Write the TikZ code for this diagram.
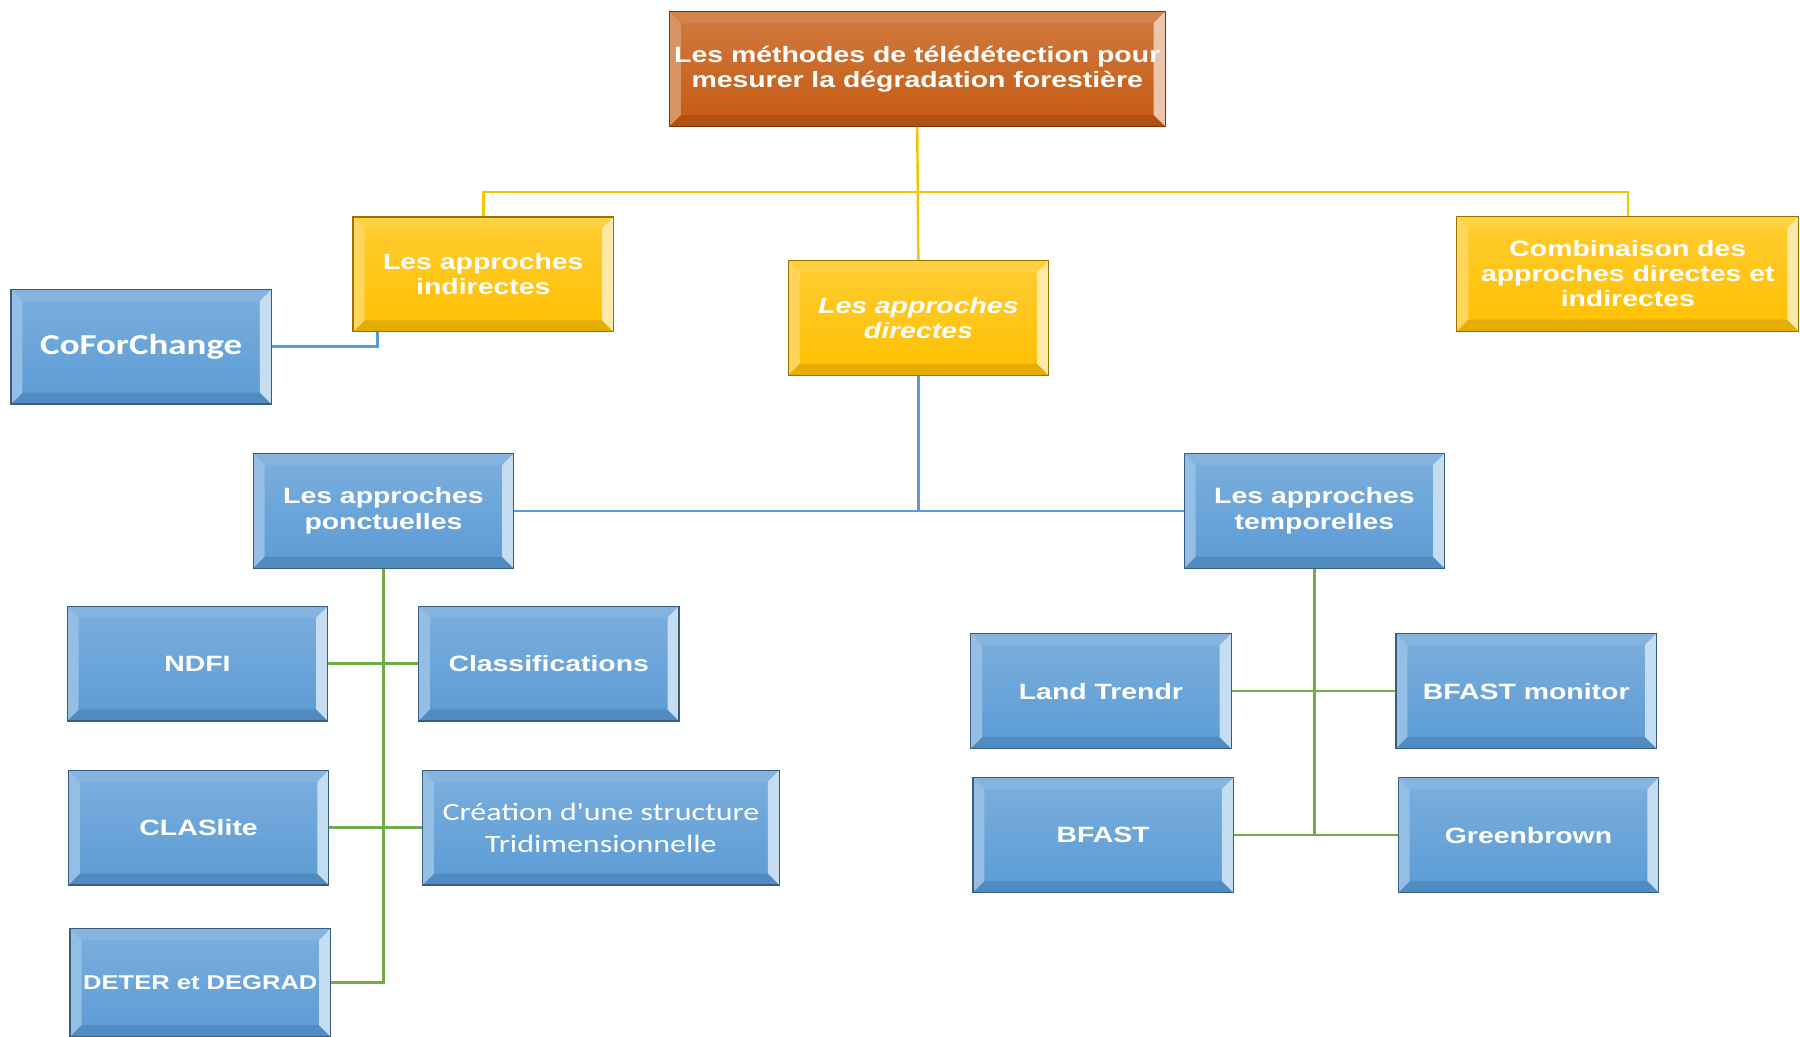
\documentclass[tikz,border=0pt]{standalone}
\usepackage{fontspec}
\newfontfamily\boxfont{Liberation Sans}[FakeStretch=1.28]
\newfontfamily\calfont{Carlito}[FakeStretch=1.28]
\definecolor{orangebox}{HTML}{C55A11}
\definecolor{yellowbox}{HTML}{FFC000}
\definecolor{bluebox}{HTML}{5B9BD5}
\definecolor{yellowline}{HTML}{F2C500}
\definecolor{blueline}{HTML}{5B9BD5}
\definecolor{greenline}{HTML}{70AD47}
\tikzset{
  bevelbox/.style={draw=#1!60!black, line width=0.6pt, top color=#1!80!white, bottom color=#1, text=white, align=center,
    minimum width=4.54cm, minimum height=2cm, inner sep=0pt,
    font=\boxfont\bfseries\fontsize{11}{12.5}\selectfont,
    path picture={
      \coordinate (bsw) at (path picture bounding box.south west);
      \coordinate (bse) at (path picture bounding box.south east);
      \coordinate (bnw) at (path picture bounding box.north west);
      \coordinate (bne) at (path picture bounding box.north east);
      \fill[#1!75!white] (bnw) -- (bne) -- ([shift={(-0.2cm,-0.2cm)}]bne) -- ([shift={(0.2cm,-0.2cm)}]bnw) -- cycle;
      \fill[#1!90!black] (bsw) -- (bse) -- ([shift={(-0.2cm,0.2cm)}]bse) -- ([shift={(0.2cm,0.2cm)}]bsw) -- cycle;
      \fill[#1!65!white] (bsw) -- (bnw) -- ([shift={(0.2cm,-0.2cm)}]bnw) -- ([shift={(0.2cm,0.2cm)}]bsw) -- cycle;
      \fill[#1!35!white] (bse) -- (bne) -- ([shift={(-0.2cm,-0.2cm)}]bne) -- ([shift={(-0.2cm,0.2cm)}]bse) -- cycle;
    }},
  link/.style={draw=#1, line width=1.2pt}
}
\begin{document}
\begin{tikzpicture}[x=0.02cm, y=-0.02cm]
\useasboundingbox (0,0) rectangle (1568,903);

\node[bevelbox=orangebox, minimum width=8.64cm] (top) at (799,60) {Les méthodes de télédétection pour\\mesurer la dégradation forestière};
\node[bevelbox=yellowbox] (ind) at (421,239) {Les approches\\indirectes};
\node[bevelbox=yellowbox, font=\boxfont\bfseries\itshape\fontsize{11}{12.5}\selectfont] (dir) at (800,277) {Les approches\\directes};
\node[bevelbox=yellowbox, minimum width=5.96cm] (comb) at (1418,238.5) {Combinaison des\\approches directes et\\indirectes};
\node[bevelbox=bluebox, font=\calfont\bfseries\fontsize{14.3}{16}\selectfont] (cof) at (123,302) {CoForChange};
\node[bevelbox=bluebox] (ponc) at (334,445) {Les approches\\ponctuelles};
\node[bevelbox=bluebox] (temp) at (1145,445) {Les approches\\temporelles};
\node[bevelbox=bluebox] (ndfi) at (172,578) {NDFI};
\node[bevelbox=bluebox] (class) at (478,578) {Classifications};
\node[bevelbox=bluebox] (clas) at (173,721) {CLASlite};
\node[bevelbox=bluebox, minimum width=6.22cm, font=\calfont\fontsize{12.4}{15.9}\selectfont] (crea) at (523.5,721) {Création d'une structure\\Tridimensionnelle};
\node[bevelbox=bluebox, minimum height=1.88cm, font=\boxfont\bfseries\fontsize{9.9}{12}\selectfont] (deter) at (174.5,856) {DETER et DEGRAD};
\node[bevelbox=bluebox] (land) at (959,602) {Land Trendr};
\node[bevelbox=bluebox] (mon) at (1329.5,602) {BFAST monitor};
\node[bevelbox=bluebox] (bfast) at (961,727.5) {BFAST};
\node[bevelbox=bluebox] (gb) at (1331.5,727.5) {Greenbrown};

\coordinate (bus) at (799,167);
\draw[link=yellowline] (top.south) -- (dir.north);
\draw[link=yellowline] (ind.north) |- (bus) -| (comb.north);

\draw[link=blueline] (cof.east) -| ([xshift=0.44cm]ind.south west);
\draw[link=blueline] (ponc.east) -| (dir.south);
\draw[link=blueline] (temp.west) -| (dir.south);

\draw[link=greenline] (ponc.south) |- (deter.east);
\draw[link=greenline] (temp.south) |- (bfast.east);
\foreach \a/\b in {ndfi/class, clas/crea, land/mon, bfast/gb}
	{\draw[link=greenline] (\a.east) -- (\b.west);}

\end{tikzpicture}
\end{document}
